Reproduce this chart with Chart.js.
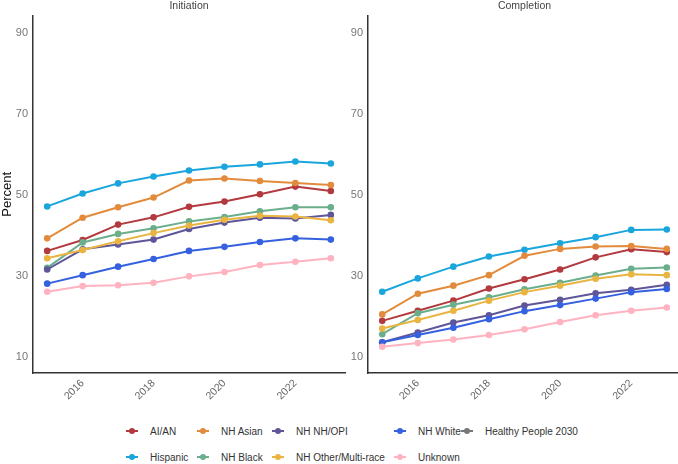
<!DOCTYPE html>
<html>
<head>
<meta charset="utf-8">
<script src="https://cdn.jsdelivr.net/npm/chart.js@4"></script>
<style>
	body{margin:0;background:#fff;font-family:"Liberation Sans",Arial,sans-serif;}
	#wrap{position:relative;width:678px;height:464px;overflow:hidden;}
	#c1{position:absolute;left:0;top:0;}
	#c2{position:absolute;left:344px;top:0;}
	#legend{position:absolute;left:126px;top:418px;display:grid;grid-template-rows:26px 26px;
		grid-template-columns:71px 75px 122px 67px auto;grid-auto-flow:column;font-size:10px;color:#333;}
	.item{display:flex;align-items:center;white-space:nowrap;}
	.mk{position:relative;width:12px;height:2px;margin-right:12px;flex:none;}
	.mk span{position:absolute;left:3px;top:-2px;width:6px;height:6px;border-radius:50%;}
</style>
</head>
<body>
<div id="wrap">
	<canvas id="c1" width="349" height="400"></canvas>
	<canvas id="c2" width="341" height="400"></canvas>
	<div id="legend"></div>
</div>
<script>
const years = [2015, 2016, 2017, 2018, 2019, 2020, 2021, 2022, 2023];
const xTicks = [2016, 2018, 2020, 2022];
const yTicks = [10, 30, 50, 70, 90];

const groups = ["AI/AN", "Hispanic", "NH Asian", "NH Black", "NH NH/OPI", "NH Other/Multi-race", "NH White", "Unknown", "Healthy People 2030"];
const colors = ["#b23a3e", "#1aa6dc", "#e38b3d", "#6bae8b", "#5f5599", "#e9b440", "#3560e0", "#ffb3c0", "#777777"];

// Initiation (%)
const initAIAN     = [36.2, 38.9, 42.7, 44.5, 47.1, 48.4, 50.2, 52.1, 51.0];
const initHispanic = [47.2, 50.4, 52.9, 54.6, 56.1, 57.0, 57.6, 58.3, 57.8];
const initAsian    = [39.3, 44.4, 47.0, 49.4, 53.6, 54.1, 53.5, 53.0, 52.5];
const initBlack    = [32.0, 38.3, 40.4, 41.8, 43.5, 44.6, 46.0, 47.0, 47.0];
const initNHOPI    = [31.6, 36.6, 37.8, 39.0, 41.6, 43.2, 44.4, 44.2, 45.1];
const initOther    = [34.4, 36.4, 38.6, 40.6, 42.5, 43.9, 44.9, 44.7, 43.8];
const initWhite    = [28.1, 30.2, 32.3, 34.2, 36.2, 37.2, 38.4, 39.3, 39.0];
const initUnknown  = [26.1, 27.5, 27.7, 28.3, 29.9, 31.0, 32.7, 33.5, 34.4];

// Completion (%)
const compAIAN     = [18.9, 21.4, 23.9, 26.9, 29.2, 31.6, 34.6, 36.6, 35.9];
const compHispanic = [26.1, 29.4, 32.3, 34.8, 36.5, 38.1, 39.6, 41.4, 41.5];
const compAsian    = [20.5, 25.6, 27.6, 30.2, 35.0, 36.7, 37.3, 37.4, 36.7];
const compBlack    = [15.6, 20.8, 22.9, 24.7, 26.7, 28.3, 30.1, 31.8, 32.1];
const compNHOPI    = [13.6, 16.0, 18.5, 20.3, 22.7, 24.1, 25.7, 26.6, 27.8];
const compOther    = [17.0, 19.1, 21.4, 23.9, 26.0, 27.6, 29.3, 30.4, 30.2];
const compWhite    = [13.6, 15.4, 17.2, 19.3, 21.3, 22.8, 24.4, 26.0, 26.8];
const compUnknown  = [12.5, 13.4, 14.3, 15.4, 16.8, 18.6, 20.3, 21.4, 22.2];

const initSeries = [initAIAN, initHispanic, initAsian, initBlack, initNHOPI, initOther, initWhite, initUnknown, []];
const compSeries = [compAIAN, compHispanic, compAsian, compBlack, compNHOPI, compOther, compWhite, compUnknown, []];

const font = '"Liberation Sans", Arial, sans-serif';

function makeDatasets(series){
	return groups.map((g, i) => ({
		label: g,
		data: series[i].map((v, k) => ({x: years[k], y: v})),
		borderColor: colors[i],
		backgroundColor: colors[i],
		borderWidth: 2,
		pointRadius: 3.3,
		pointBorderWidth: 0,
		tension: 0
	})).reverse();
}

function makeChart(id, title, series, showTitle, yWidth){
	return new Chart(document.getElementById(id), {
		type: 'line',
		data: {datasets: makeDatasets(series)},
		options: {
			responsive: false,
			animation: false,
			layout: {padding: 0},
			plugins: {
				legend: {display: false},
				tooltip: {enabled: false},
				title: {
					display: true,
					text: title,
					fullSize: false,
					color: '#444',
					font: {family: font, size: 10.5, weight: 'normal'},
					padding: {top: 0, bottom: 3}
				}
			},
			scales: {
				x: {
					type: 'linear',
					min: 2014.6,
					max: 2023.4,
					afterBuildTicks: (axis) => { axis.ticks = xTicks.map(v => ({value: v})); },
					afterFit: (scale) => { scale.height = 27; },
					grid: {display: false, drawTicks: false},
					border: {display: true, color: '#333', width: 1.5},
					ticks: {
						color: '#666',
						minRotation: 45,
						maxRotation: 45,
						padding: 4,
						font: {family: font, size: 10.5},
						callback: (v) => String(v)
					}
				},
				y: {
					min: 6,
					max: 94.4,
					afterBuildTicks: (axis) => { axis.ticks = yTicks.map(v => ({value: v})); },
					afterFit: (scale) => { scale.width = yWidth; },
					grid: {display: false, drawTicks: false},
					border: {display: true, color: '#333', width: 1.5},
					title: {
						display: showTitle,
						text: 'Percent',
						color: '#111',
						font: {family: font, size: 13},
						padding: {top: 0, bottom: 0}
					},
					ticks: {
						color: '#777',
						padding: 5,
						font: {family: font, size: 11}
					}
				}
			}
		}
	});
}

makeChart('c1', 'Initiation', initSeries, true, 33);
makeChart('c2', 'Completion', compSeries, false, 24);

// shared legend, column-major like the original
const legend = document.getElementById('legend');
groups.forEach((g, i) => {
	const item = document.createElement('div');
	item.className = 'item';
	item.innerHTML = '<div class="mk" style="background:' + colors[i] + '"><span style="background:' + colors[i] + '"></span></div>' + g;
	legend.appendChild(item);
});
</script>
</body>
</html>
